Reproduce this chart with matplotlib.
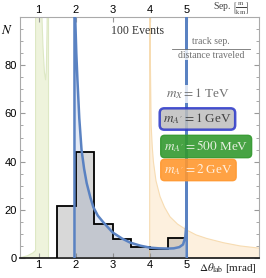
import matplotlib

matplotlib.use("Agg")
import matplotlib.pyplot as plt
from matplotlib.lines import Line2D
from matplotlib.ticker import MultipleLocator

plt.rcParams["mathtext.fontset"] = "stix"

# histogram of 100 events, 0.5 mrad bins
bin_edges = [1.5, 2.0, 2.5, 3.0, 3.5, 4.0, 4.5, 5.0]
counts = [21.5, 44, 14, 7.7, 4.6, 3.5, 8]

# m_A' = 1 GeV expected shape
blue_theta = [1.97, 1.97, 1.99, 2.02, 2.05, 2.1, 2.16, 2.23, 2.3, 2.4, 2.48, 2.6, 2.75,
              3.0, 3.25, 3.47, 3.75, 4.0, 4.25, 4.5, 4.65, 4.8, 4.9, 4.96, 4.99, 5.0, 5.0]
blue_n = [0, 130, 100, 85, 74, 58, 45, 37, 31, 25, 21, 17.5, 14.7,
          10.5, 8.0, 6.3, 5.0, 4.2, 3.9, 3.8, 3.9, 4.4, 5.5, 8.5, 14, 130, 0]

# m_A' = 500 MeV
green_theta = [0.5, 0.7, 0.85, 0.92, 0.92, 1.07, 1.12, 1.16, 1.19, 1.21, 1.23, 1.25, 1.27, 1.27]
green_n = [0, 0.8, 2, 3, 130, 110, 88, 77, 74, 78, 95, 130, 130, 0]

# m_A' = 2 GeV
orange_theta = [4.0, 4.0, 4.02, 4.04, 4.07, 4.1, 4.17, 4.28, 4.4, 4.55, 4.75, 5.0,
                5.25, 5.54, 6.0, 6.44, 7.0]
orange_n = [0, 130, 80, 55, 46, 40, 32, 25.4, 21, 17, 14, 11.5, 9.5, 8, 6.2, 4.9, 3.9]

xticks = [1, 2, 3, 4, 5]
yticks = [0, 20, 40, 60, 80]

W, H = 266, 278


def fx(px):
    return px / W


def fy(py):
    return 1 - py / H


fig = plt.figure(figsize=(W / 100, H / 100), dpi=100)
ax = fig.add_axes([fx(20), fy(257.7), (259 - 20) / W, (257.7 - 17.3) / H])

ax.fill_between(green_theta, green_n, color="#eef3dc", lw=0, zorder=1)
ax.plot(green_theta, green_n, color="#dde8c4", lw=0.8, zorder=2)
ax.fill_between(orange_theta, orange_n, color="#fdf0de", lw=0, zorder=1)
ax.plot(orange_theta, orange_n, color="#f7dcb2", lw=0.8, zorder=2)
ax.fill_between(blue_theta, blue_n, color="#e3e9f4", lw=0, zorder=1)

ax.stairs(counts, bin_edges, fill=True, color="#646464", alpha=0.25, lw=0, zorder=3)
ax.stairs(counts, bin_edges, baseline=0, color="black", lw=1.3, zorder=4)

ax.plot(blue_theta, blue_n, color="#5a82c2", lw=1.8, zorder=5)

ax.set_xlim(0.5, 6.95)
ax.set_ylim(0, 100)
ax.set_xticks(xticks)
ax.set_yticks(yticks)
ax.yaxis.set_minor_locator(MultipleLocator(5))
ax.tick_params(which="both", direction="in", color="#999999", top=True, right=True,
               labeltop=True, labelsize=8, pad=2)
ax.tick_params(which="major", length=3.5)
ax.tick_params(which="minor", length=2)
for lab in ax.get_xticklabels() + ax.get_yticklabels():
    lab.set_family("Liberation Sans")
for side in ["left", "right", "top"]:
    ax.spines[side].set_color("#aaaaaa")
    ax.spines[side].set_linewidth(0.8)
ax.spines["bottom"].set_color("#222222")
ax.spines["bottom"].set_linewidth(1.3)

serif = "Liberation Serif"
grey = "#707070"
fig.text(fx(7), fy(31), "$N$", fontsize=9.5, ha="center", va="center")
fig.text(fx(137.5), fy(31), "100 Events", family=serif, fontsize=8.5, ha="center",
         va="center", color="#333333")
fig.text(fx(231), fy(9), r"Sep. $\left[\frac{\mathrm{m}}{\mathrm{km}}\right]$", family=serif,
         fontsize=7, ha="center", va="center", color="#444444")

wbox = dict(boxstyle="square,pad=0.1", fc="white", ec="none", alpha=0.8)
fig.text(fx(211), fy(42), "track sep.", family=serif, fontsize=7, ha="center",
         va="center", color=grey, zorder=6, bbox=wbox)
fig.text(fx(211), fy(55), "distance traveled", family=serif, fontsize=7, ha="center",
         va="center", color=grey, zorder=6, bbox=wbox)
fig.add_artist(Line2D([fx(172), fx(250)], [fy(48.5), fy(48.5)], color=grey, lw=0.6, zorder=6))

fig.text(fx(198.5), fy(94), "$m_X = 1$ TeV", family=serif, fontsize=9.5, ha="center",
         va="center", color=grey, zorder=6, bbox=wbox)

fig.text(fx(163), fy(119), "$m_{A'} = 1$ GeV", family=serif, fontsize=9.5, ha="left",
         va="center", color="#404040", zorder=6,
         bbox=dict(boxstyle="round,pad=0.25,rounding_size=0.35", fc="#bdbdbd", ec="#2a36c9",
                   lw=1.8, alpha=0.85))
fig.text(fx(164), fy(146.5), "$m_{A'} = 500$ MeV", family=serif, fontsize=9.5, ha="left",
         va="center", color="#e6f0e0", zorder=6,
         bbox=dict(boxstyle="round,pad=0.25,rounding_size=0.3", fc="#33992f", ec="#33992f",
                   alpha=0.9))
fig.text(fx(164), fy(170), "$m_{A'} = 2$ GeV", family=serif, fontsize=9.5, ha="left",
         va="center", color="#fff0e0", zorder=6,
         bbox=dict(boxstyle="round,pad=0.25,rounding_size=0.3", fc="#ff9830", ec="#ff9830",
                   alpha=0.9))

fig.text(fx(228), fy(268), r"$\Delta\theta_{\mathrm{lab}}$ [mrad]", family=serif, fontsize=8,
         ha="center", va="center", color="#222222")

fig.savefig("out.png", dpi=100)
